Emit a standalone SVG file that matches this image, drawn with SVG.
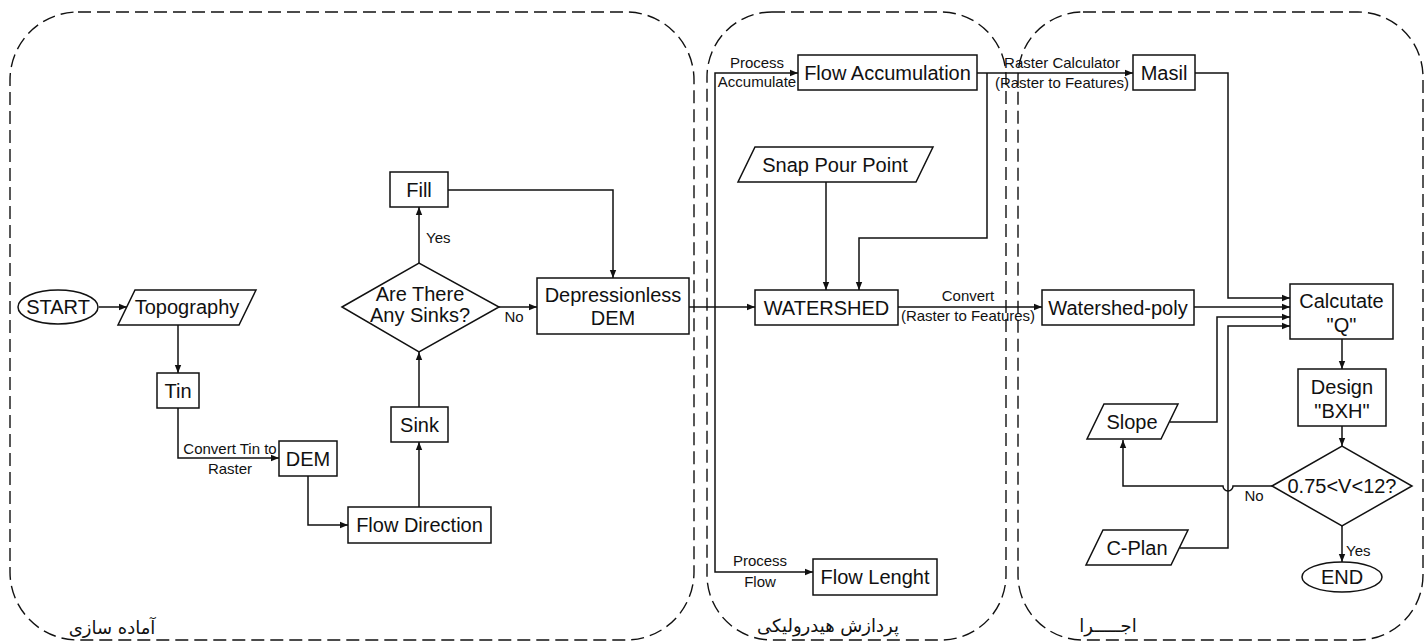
<svg xmlns="http://www.w3.org/2000/svg" width="1426" height="643" viewBox="0 0 1426 643">
<style>
.c{fill:none;stroke:#111;stroke-width:1.4;stroke-dasharray:13 6}
.n{fill:#fff;stroke:#111;stroke-width:1.5}
.t{font-family:"Liberation Sans",Arial,sans-serif;font-size:20px;fill:#111;text-anchor:middle}
.s{font-family:"Liberation Sans",Arial,sans-serif;font-size:15px;fill:#111;text-anchor:middle}
.a{font-family:"DejaVu Sans","Noto Sans",sans-serif;font-size:18px;fill:#111;text-anchor:middle}
.l{fill:none;stroke:#111;stroke-width:1.5}
.l.m{marker-end:url(#ah)}
</style>
<defs>
<marker id="ah" viewBox="0 0 10 10" refX="10" refY="5" markerWidth="8" markerHeight="8" markerUnits="userSpaceOnUse" orient="auto">
<path d="M0,1 L10,5 L0,9 z" fill="#111"/>
</marker>
</defs>
<rect width="1426" height="643" fill="#fff"/>
<g id="containers">
<rect class="c" x="10" y="12" width="684" height="628" rx="68" ry="68"/>
<rect class="c" x="707" y="12" width="299" height="628" rx="65" ry="65"/>
<rect class="c" x="1018" y="12" width="405" height="628" rx="65" ry="65"/>
<text class="a" x="112" y="634">آماده سازی</text>
<text class="a" x="828" y="632">پردازش هیدرولیکی</text>
<text class="a" x="1108" y="632">اجـــــرا</text>
</g>
<g id="connectors">
<path class="l m" d="M99,307 H127"/>
<path class="l m" d="M178,325 V373"/>
<path class="l m" d="M178,408 V458 H279"/>
<path class="l m" d="M308,476 V525 H348"/>
<path class="l m" d="M419,507 V442"/>
<path class="l m" d="M419,407 V352"/>
<path class="l m" d="M419,263 V207"/>
<path class="l m" d="M448,190 H613 V278"/>
<path class="l m" d="M499,307 H537"/>
<path class="l m" d="M689,307 H755"/>
<path class="l m" d="M715,307 V73 H798"/>
<path class="l m" d="M715,307 V572 H813"/>
<path class="l m" d="M826,182 V290"/>
<path class="l m" d="M987,73 V238 H859 V290"/>
<path class="l m" d="M977,73 H1133"/>
<path class="l m" d="M898,307 H1042"/>
<path class="l m" d="M1195,73 H1228 V298 H1290"/>
<path class="l m" d="M1194,307 H1290"/>
<path class="l m" d="M1170,422 H1217 V317 H1290"/>
<path class="l m" d="M1180,548 H1228 V326 H1290"/>
<path class="l m" d="M1342,339 V369"/>
<path class="l m" d="M1342,426 V446"/>
<path class="l m" d="M1342,526 V562"/>
<path class="l m" d="M1272,486 H1233 A5,5 0 0 1 1223,486 H1123 V440"/>
<text class="s" x="426" y="243" style="text-anchor:start">Yes</text>
<text class="s" x="514" y="322">No</text>
<text class="s" x="230" y="454">Convert Tin to</text>
<text class="s" x="230" y="474">Raster</text>
<text class="s" x="757" y="68">Process</text>
<text class="s" x="757" y="87">Accumulate</text>
<text class="s" x="760" y="566">Process</text>
<text class="s" x="760" y="587">Flow</text>
<text class="s" x="1062" y="68">Raster Calculator</text>
<text class="s" x="1062" y="88">(Raster to Features)</text>
<text class="s" x="968" y="301">Convert</text>
<text class="s" x="968" y="321">(Raster to Features)</text>
<text class="s" x="1254" y="501">No</text>
<text class="s" x="1346" y="556" style="text-anchor:start">Yes</text>
</g>
<g id="start"><ellipse class="n" cx="58" cy="307" rx="40" ry="17"/><text class="t" x="58" y="314">START</text></g>
<g id="topography"><polygon class="n" points="135,290 256,290 239,325 118,325"/><text class="t" x="187" y="314">Topography</text></g>
<g id="tin"><rect class="n" x="157" y="373" width="42" height="35"/><text class="t" x="178" y="398">Tin</text></g>
<g id="dem"><rect class="n" x="279" y="441" width="58" height="35"/><text class="t" x="308" y="466">DEM</text></g>
<g id="flowdir"><rect class="n" x="348" y="507" width="143" height="36"/><text class="t" x="419.5" y="532">Flow Direction</text></g>
<g id="sink"><rect class="n" x="391" y="407" width="57" height="35"/><text class="t" x="419.5" y="432">Sink</text></g>
<g id="sinks-q"><polygon class="n" points="342,307 419,263 499,307 419,352"/><text class="t" x="420" y="301">Are There</text><text class="t" x="420" y="322">Any Sinks?</text></g>
<g id="fill"><rect class="n" x="390" y="172" width="58" height="35"/><text class="t" x="419" y="197">Fill</text></g>
<g id="depdem"><rect class="n" x="537" y="278" width="152" height="56"/><text class="t" x="613" y="302">Depressionless</text><text class="t" x="613" y="325">DEM</text></g>
<g id="flowacc"><rect class="n" x="798" y="55" width="179" height="35"/><text class="t" x="887.5" y="80">Flow Accumulation</text></g>
<g id="snap"><polygon class="n" points="755,147 933,147 916,182 738,182"/><text class="t" x="835" y="172">Snap Pour Point</text></g>
<g id="watershed"><rect class="n" x="755" y="290" width="143" height="35"/><text class="t" x="826.5" y="315">WATERSHED</text></g>
<g id="flowlen"><rect class="n" x="813" y="559" width="124" height="36"/><text class="t" x="875" y="584">Flow Lenght</text></g>
<g id="masil"><rect class="n" x="1133" y="55" width="62" height="35"/><text class="t" x="1164" y="80">Masil</text></g>
<g id="wspoly"><rect class="n" x="1042" y="290" width="152" height="35"/><text class="t" x="1118" y="315">Watershed-poly</text></g>
<g id="calc"><rect class="n" x="1290" y="284" width="103" height="55"/><text class="t" x="1341.5" y="308">Calcutate</text><text class="t" x="1341.5" y="332">"Q"</text></g>
<g id="design"><rect class="n" x="1298" y="369" width="88" height="57"/><text class="t" x="1342" y="394">Design</text><text class="t" x="1342" y="418">"BXH"</text></g>
<g id="vcheck"><polygon class="n" points="1272,486 1342,446 1412,486 1342,526"/><text class="t" x="1342" y="493">0.75&lt;V&lt;12?</text></g>
<g id="slope"><polygon class="n" points="1104,404 1178,404 1161,439 1087,439"/><text class="t" x="1132" y="429">Slope</text></g>
<g id="cplan"><polygon class="n" points="1103,530 1188,530 1171,565 1086,565"/><text class="t" x="1137" y="555">C-Plan</text></g>
<g id="end"><ellipse class="n" cx="1342" cy="577" rx="40" ry="15"/><text class="t" x="1342" y="584">END</text></g>
</svg>
